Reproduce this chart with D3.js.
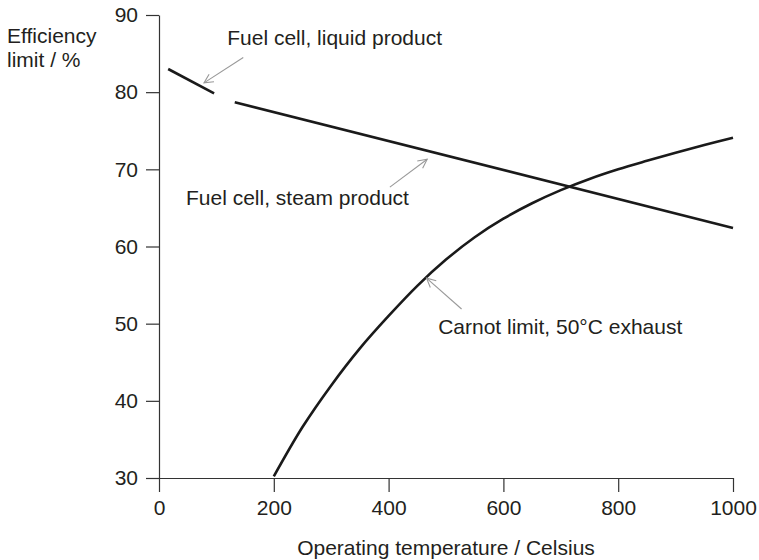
<!DOCTYPE html>
<html>
<head>
<meta charset="utf-8">
<script src="https://cdn.jsdelivr.net/npm/d3@7/dist/d3.min.js"></script>
<style>
  body { margin: 0; background: #fff; }
  #plot { font-family: "Liberation Sans", Arial, Helvetica, sans-serif; }
  #plot .axis path, #plot .axis line { stroke: #333; stroke-width: 1.2; fill: none; }
  #plot .axis text { fill: #231f20; font-size: 21px; }
  #plot .curve { fill: none; stroke: #1a1a1a; stroke-width: 2.6; }
  #plot .note-arrow { stroke: #999; stroke-width: 1.1; fill: none; }
  #plot .note-label, #plot .axis-label { fill: #231f20; font-size: 21px; }
</style>
</head>
<body>
<div id="plot"></div>
<script>

// Data (temperature in Celsius, efficiency limit in %)
var liquidTemp = [16, 96];
var liquidEff = [83.0, 79.85];

var steamTemp = [132, 1000];
var steamEff = [78.7, 62.4];

var carnotTemp = [200, 250, 300, 350, 400, 450, 500, 550, 600, 650, 700, 750, 800, 850, 900, 950, 1000];
var carnotEff = [30.2, 36.6, 42.0, 46.8, 51.0, 54.9, 58.3, 61.2, 63.6, 65.6, 67.3, 68.75, 70.0, 71.1, 72.15, 73.15, 74.1];

var xTicks = [0, 200, 400, 600, 800, 1000];
var yTicks = [30, 40, 50, 60, 70, 80, 90];

var noteTexts = ["Fuel cell, liquid product", "Fuel cell, steam product", "Carnot limit, 50\u00b0C exhaust"];

var width = 759,
    height = 560,
    margins = {top: 15, right: 26, bottom: 82, left: 159},
    w = width - margins.left - margins.right,
    h = height - margins.top - margins.bottom;

var x = d3.scaleLinear().domain([0, 1000]).range([0, w]);
var y = d3.scaleLinear().domain([30, 90]).range([h, 0]);

var svg = d3.select("#plot").append("svg")
    .attr("width", width)
    .attr("height", height);

// open arrow head for the annotations
svg.append("defs").append("marker")
    .attr("id", "head")
    .attr("viewBox", "-10 -6 12 12")
    .attr("refX", 0)
    .attr("refY", 0)
    .attr("markerWidth", 12)
    .attr("markerHeight", 12)
    .attr("markerUnits", "userSpaceOnUse")
    .attr("orient", "auto")
    .append("path")
    .attr("d", "M-9,-4.5L0,0L-9,4.5")
    .style("fill", "none")
    .style("stroke", "#999")
    .style("stroke-width", 1.1);

var root = svg.append("g")
    .attr("transform", "translate(" + margins.left + "," + margins.top + ")");

// axes
root.append("g")
    .attr("class", "x axis")
    .attr("transform", "translate(0," + h + ")")
    .call(d3.axisBottom(x).tickValues(xTicks).tickFormat(d3.format("d"))
        .tickSize(14).tickPadding(8).tickSizeOuter(0));

root.append("g")
    .attr("class", "y axis")
    .call(d3.axisLeft(y).tickValues(yTicks).tickFormat(d3.format("d"))
        .tickSize(13).tickPadding(8).tickSizeOuter(0));

// axis labels
root.append("text")
    .attr("class", "axis-label")
    .attr("x", w / 2)
    .attr("y", h + 77)
    .attr("text-anchor", "middle")
    .text("Operating temperature / Celsius");

var ylab = svg.append("text")
    .attr("class", "axis-label")
    .attr("x", 7)
    .attr("y", 43);
ylab.append("tspan").attr("x", 7).text("Efficiency");
ylab.append("tspan").attr("x", 7).attr("y", 67).text("limit / %");

// curves
var line = d3.line()
    .x(function(d) { return x(d[0]); })
    .y(function(d) { return y(d[1]); });

var smooth = d3.line()
    .curve(d3.curveCatmullRom)
    .x(function(d) { return x(d[0]); })
    .y(function(d) { return y(d[1]); });

root.append("path")
    .attr("class", "curve")
    .attr("d", line(d3.zip(liquidTemp, liquidEff)));

root.append("path")
    .attr("class", "curve")
    .attr("d", line(d3.zip(steamTemp, steamEff)));

root.append("path")
    .attr("class", "curve")
    .attr("d", smooth(d3.zip(carnotTemp, carnotEff)));

// annotations: arrow from [T, eff] to [T, eff], label at [T, eff]
var notes = [
    {text: noteTexts[0], from: [146.8, 84.5], to: [78.4, 81.2], at: [118.9, 86.1]},
    {text: noteTexts[1], from: [402.2, 67.7], to: [467.2, 71.3], at: [47, 65.4]},
    {text: noteTexts[2], from: [527.1, 51.9], to: [466.1, 55.9], at: [486.3, 48.7]}
];

root.selectAll(".note-arrow")
    .data(notes)
    .enter().append("line")
    .attr("class", "note-arrow")
    .attr("x1", function(d) { return x(d.from[0]); })
    .attr("y1", function(d) { return y(d.from[1]); })
    .attr("x2", function(d) { return x(d.to[0]); })
    .attr("y2", function(d) { return y(d.to[1]); })
    .attr("marker-end", "url(#head)");

root.selectAll(".note-label")
    .data(notes)
    .enter().append("text")
    .attr("class", "note-label")
    .attr("x", function(d) { return x(d.at[0]); })
    .attr("y", function(d) { return y(d.at[1]); })
    .text(function(d) { return d.text; });

</script>
</body>
</html>
